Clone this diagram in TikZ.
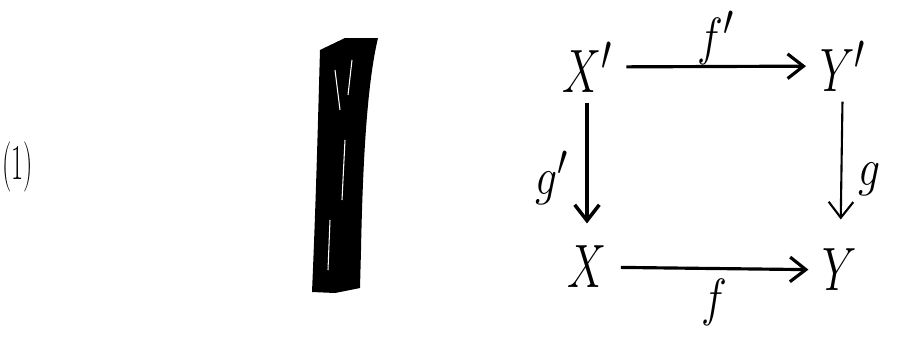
\documentclass[tikz,border=0pt]{standalone}
\usepackage{amsmath, amssymb}
\usepackage{tikz}
\usetikzlibrary{arrows.meta}
\tikzstyle{every picture}=[->,>={Straight Barb[length=9pt,width=14pt]}]
\tikzstyle{obj}=[font=\Huge, xscale=1.0, yscale=1.4, inner xsep=8pt, inner ysep=4pt]
\tikzstyle{lbl}=[font=\Huge, yscale=1.2, inner sep=1pt]

\begin{document}
\begin{tikzpicture}[x=0.02cm,y=-0.02cm]
    \useasboundingbox (0,0) rectangle (914,339);
    % equation number
    \node[font=\Huge,xscale=0.6,yscale=1.15] (num) at (18,167) {$(1)$};
    % thick scribbled bar
    \fill[-,black] (320,50) -- (345,38) -- (378,38)
        .. controls (368,80) and (363,150) .. (361,250)
        -- (360,288) -- (335,293) -- (312,292)
        .. controls (316,200) and (318,120) .. (320,50) -- cycle;
    \draw[-,white,line width=0.6pt] (335,70) -- (340,110);
    \draw[-,white,line width=0.6pt] (345,140) -- (342,200);
    \draw[-,white,line width=0.6pt] (330,220) -- (328,270);
    \draw[-,white,line width=0.6pt] (352,60) -- (348,95);
    % top row
    \node[obj] (xp) at (587,67) {$X'$};
    \node[obj] (yp) at (843,66) {$Y'$};
    % bottom row
    \node[obj] (x) at (587,267) {$X$};
    \node[obj] (y) at (840,270) {$Y$};
    % arrows
    \draw[line width=1.8pt] (xp) -- (yp)
        node[midway,yshift=16pt,lbl] (fp) {$f'$};
    \draw[line width=1.8pt] (x) -- (y)
        node[midway,yshift=-19pt,lbl] (f) {$f$};
    \draw[line width=2pt,shorten >=7pt] (xp) -- (x)
        node[midway,xshift=-20pt,yshift=-5pt,lbl] (gp) {$g'$};
    \draw[line width=1.2pt,shorten >=11pt] (yp) -- (y)
        node[midway,xshift=16pt,yshift=-5pt,lbl] (g) {$g$};
\end{tikzpicture}
\end{document}
